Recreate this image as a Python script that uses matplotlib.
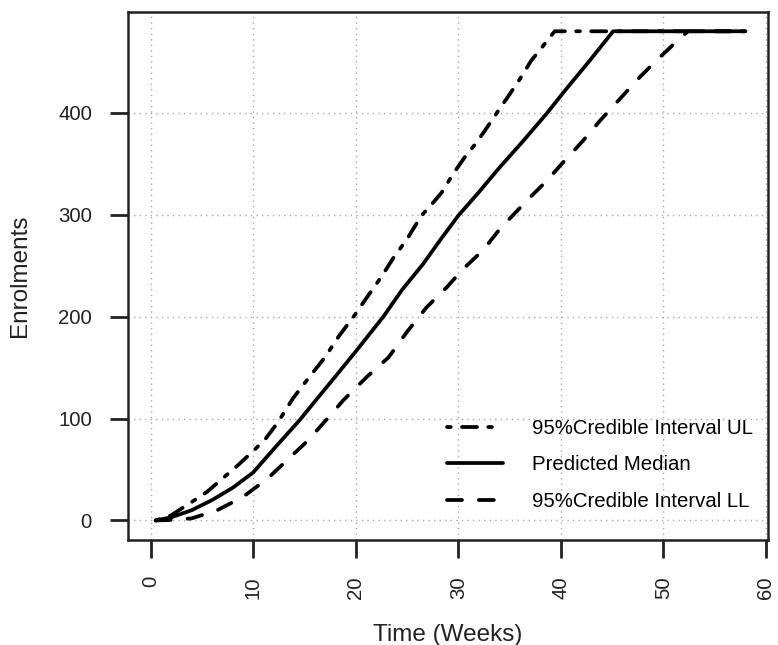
import matplotlib
matplotlib.use("Agg")
import matplotlib.pyplot as plt

plt.rcParams['font.family'] = ['Liberation Sans', 'DejaVu Sans']

# Predicted median and 95% credible interval (weeks, enrolments)
med_weeks = [0.5, 2, 4, 6, 8, 10, 12, 14.5, 16.2, 18, 20.1, 22.7, 24.5, 26.6, 28.3, 30,
             32, 34, 36.3, 38.6, 40.5, 42.8, 45.1, 58]
med_vals = [0, 3, 10, 20, 32, 47, 70, 98, 119, 141, 167, 200, 226, 252, 276, 299,
            322, 346, 372, 399, 423, 451, 480, 480]

ul_weeks = [0.5, 2, 4, 5.5, 7, 8.5, 10, 11.2, 12.4, 13.9, 15.5, 17, 18.3, 19.8, 21.1,
            22.5, 23.7, 25, 26.4, 27.4, 28.4, 29.5, 30.6, 31.8, 32.9, 33.9, 35, 36,
            37.1, 38.3, 39.4, 58]
ul_vals = [0, 5, 18, 28, 41, 54, 68, 80, 96, 120, 141, 160, 180, 200, 219,
           239, 258, 276, 299, 310, 322, 340, 356, 371, 387, 402, 418, 433,
           451, 466, 480, 480]

ll_weeks = [0.5, 2, 4, 6.5, 9, 11.4, 13.3, 15.3, 17.6, 18.8, 21.1, 23.2, 25, 26.9,
            28.9, 30.5, 32.4, 33.9, 35, 37, 38.6, 40.1, 42.2, 43.8, 45.7, 47.7,
            49.6, 51.5, 52.4, 58]
ll_vals = [0, 0.5, 2, 10, 23, 41, 59, 78, 104, 118, 141, 160, 185, 209,
           229, 247, 265, 284, 296, 317, 333, 350, 373, 392, 413, 435,
           454, 472, 480, 480]

x_ticks = [0, 10, 20, 30, 40, 50, 60]
y_ticks = [0, 100, 200, 300, 400]

fig = plt.figure(figsize=(7.78, 6.45), dpi=100)
ax = fig.add_axes([128 / 778, 105 / 645, 640 / 778, 528.3 / 645])

lw = 2.7
ax.plot(ul_weeks, ul_vals, color='black', lw=lw, dashes=(1, 3, 4, 3),
        dash_capstyle='round', solid_capstyle='round', label='95%Credible Interval UL')
ax.plot(med_weeks, med_vals, color='black', lw=lw, solid_capstyle='round',
        label='Predicted Median')
ax.plot(ll_weeks, ll_vals, color='black', lw=lw, dashes=(4, 4.5),
        dash_capstyle='round', label='95%Credible Interval LL')

ax.set_xlim(-2.2, 60.2)
ax.set_ylim(-19.2, 499.2)
ax.set_xticks(x_ticks)
ax.set_yticks(y_ticks)
ax.grid(True, color='#aaaaaa', lw=1.0, linestyle=(0, (1, 3)))
ax.set_axisbelow(True)

for s in ax.spines.values():
    s.set_linewidth(1.8)
    s.set_color('#222222')
ax.tick_params(direction='out', length=13, width=2.0, color='#222222',
               labelsize=14.7, pad=13, labelcolor='#222222')
plt.setp(ax.get_xticklabels(), rotation=90)

ax.set_xlabel('Time (Weeks)', fontsize=17.5, color='#222222')
ax.set_ylabel('Enrolments', fontsize=17.5, color='#222222')
ax.xaxis.set_label_coords(0.5, -0.159)
ax.yaxis.set_label_coords(-0.151, 0.5)

ax.legend(loc='upper left', bbox_to_anchor=(447 / 778, 1 - 419 / 645),
          bbox_transform=fig.transFigure, frameon=False, fontsize=14.7,
          handlelength=2.73, handletextpad=1.41, labelspacing=0.85, borderpad=0,
          borderaxespad=0)

fig.savefig('out.png', dpi=100)
